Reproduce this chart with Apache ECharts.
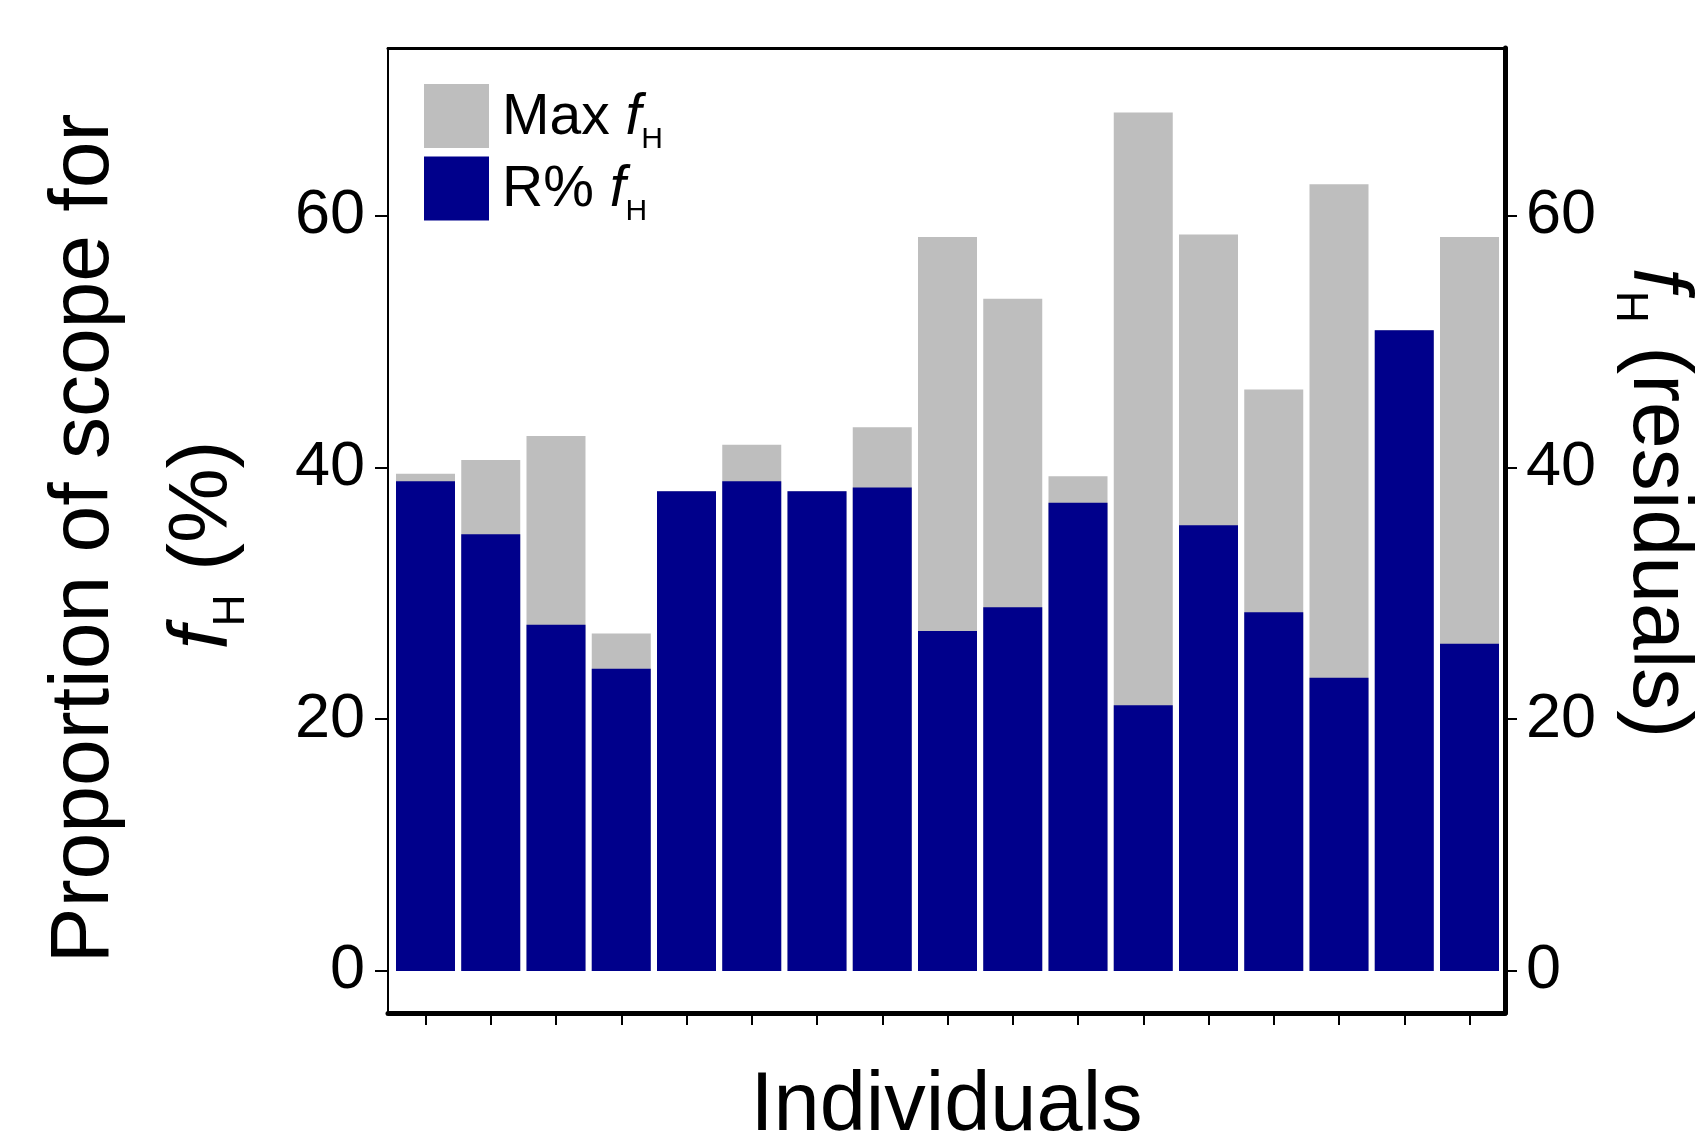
<!DOCTYPE html>
<html>
<head>
<meta charset="utf-8">
<script src="https://cdn.jsdelivr.net/npm/echarts@6/dist/echarts.min.js"></script>
<style>
html,body{margin:0;padding:0;background:#fff;}
#chart{width:1697px;height:1134px;}
</style>
</head>
<body>
<div id="chart"></div>
<script>
// ---- data ----
const individuals = ['1','2','3','4','5','6','7','8','9','10','11','12','13','14','15','16','17'];
const maxFH = [39.5, 40.6, 42.5, 26.8, 38.1, 41.8, 38.1, 43.2, 58.3, 53.4, 39.3, 68.2, 58.5, 46.2, 62.5, 50.9, 58.3];
const rFH   = [38.9, 34.7, 27.5, 24.0, 38.1, 38.9, 38.1, 38.4, 27.0, 28.9, 37.2, 21.1, 35.4, 28.5, 23.3, 50.9, 26.0];
const yTicks = [0, 20, 40, 60];
const seriesNames = ['Max fH', 'R% fH'];

// ---- style ----
const FONT = '"Liberation Sans", Arial, Helvetica, sans-serif';
const GRAY = '#bebebe';
const BLUE = '#00008b';
const xIdx = individuals.map((_, i) => i);
const xMin = -0.5747, xMax = 16.544;
const yMin = -3.34, yMax = 73.32;

const legendRich = {
  m: { fontSize: 57, fontFamily: FONT, color: '#000', lineHeight: 64, height: 60, verticalAlign: 'bottom' },
  i: { fontSize: 57, fontFamily: FONT, fontStyle: 'italic', color: '#000', lineHeight: 64, height: 60, verticalAlign: 'bottom' },
  s: { fontSize: 30, fontFamily: FONT, color: '#000', lineHeight: 64, height: 17, verticalAlign: 'bottom' }
};
function zrRich(size, subSize, subLH) {
  return {
    i: { fontStyle: 'italic', fontSize: size, fontFamily: FONT, fill: '#000' },
    s: { fontSize: subSize, fontFamily: FONT, lineHeight: subLH, verticalAlign: 'bottom', fill: '#000' }
  };
}

const chart = echarts.init(document.getElementById('chart'), null, { renderer: 'canvas' });

const option = {
  animation: false,
  backgroundColor: '#fff',
  grid: { left: 388, top: 48, width: 1117, height: 965, outerBoundsMode: 'none', containLabel: false },
  legend: {
    left: 424, top: 84, orient: 'vertical', padding: 0,
    itemWidth: 65, itemHeight: 64, itemGap: 2,
    icon: 'rect',
    data: seriesNames,
    formatter: function (name) {
      const parts = name.split('fH');
      return '{m|' + parts[0] + '}{i|f}{s|H}';
    },
    textStyle: {
      fontSize: 57, fontFamily: FONT, color: '#000', lineHeight: 64, padding: [0, 0, 0, 8],
      rich: legendRich
    }
  },
  xAxis: [
    {
      type: 'value', position: 'bottom', min: xMin, max: xMax,
      axisLine: { show: true, onZero: false, lineStyle: { color: '#000', width: 5 } },
      axisTick: { show: true, length: 12, lineStyle: { color: '#000', width: 2 }, customValues: xIdx },
      axisLabel: { show: false },
      splitLine: { show: false }
    },
    {
      type: 'value', position: 'top', min: xMin, max: xMax,
      axisLine: { show: true, onZero: false, lineStyle: { color: '#000', width: 3 } },
      axisTick: { show: false }, axisLabel: { show: false }, splitLine: { show: false }
    }
  ],
  yAxis: [
    {
      type: 'value', position: 'left', min: yMin, max: yMax,
      axisLine: { show: true, onZero: false, lineStyle: { color: '#000', width: 2 } },
      axisTick: { show: true, length: 13, lineStyle: { color: '#000', width: 2 }, customValues: yTicks },
      axisLabel: { show: true, customValues: yTicks, margin: 23, fontSize: 63, fontFamily: FONT, color: '#000' },
      splitLine: { show: false }
    },
    {
      type: 'value', position: 'right', min: yMin, max: yMax,
      axisLine: { show: true, onZero: false, lineStyle: { color: '#000', width: 5 } },
      axisTick: { show: true, length: 12, lineStyle: { color: '#000', width: 2 }, customValues: yTicks },
      axisLabel: { show: true, customValues: yTicks, margin: 21, fontSize: 63, fontFamily: FONT, color: '#000' },
      splitLine: { show: false }
    }
  ],
  series: [
    {
      name: seriesNames[0], type: 'bar', xAxisIndex: 0, yAxisIndex: 0,
      barWidth: 59, barGap: '-100%',
      itemStyle: { color: GRAY },
      data: maxFH.map((v, i) => [xIdx[i], v])
    },
    {
      name: seriesNames[1], type: 'bar', xAxisIndex: 0, yAxisIndex: 0,
      barWidth: 59, barGap: '-100%',
      itemStyle: { color: BLUE },
      data: rFH.map((v, i) => [xIdx[i], v])
    }
  ],
  graphic: [
    {
      type: 'text', x: 85, y: 538.5, rotation: Math.PI / 2,
      style: { text: 'Proportion of scope for', fontSize: 84, fontFamily: FONT, fill: '#000', align: 'center', verticalAlign: 'middle' }
    },
    {
      type: 'text', x: 204, y: 545, rotation: Math.PI / 2,
      style: { text: '{i|f}{s|H} (%)', fontSize: 84, fontFamily: FONT, fill: '#000', align: 'center', verticalAlign: 'middle', rich: zrRich(84, 44, 100) }
    },
    {
      type: 'text', x: 1657, y: 503, rotation: -Math.PI / 2,
      style: { text: '{i|f}{s|H} (residuals)', fontSize: 84, fontFamily: FONT, fill: '#000', align: 'center', verticalAlign: 'middle', rich: zrRich(84, 44, 100) }
    },
    {
      type: 'text', x: 946.5, y: 1107,
      style: { text: 'Individuals', fontSize: 83, fontFamily: FONT, fill: '#000', align: 'center', verticalAlign: 'middle' }
    }
  ]
};
chart.setOption(option);
</script>
</body>
</html>
